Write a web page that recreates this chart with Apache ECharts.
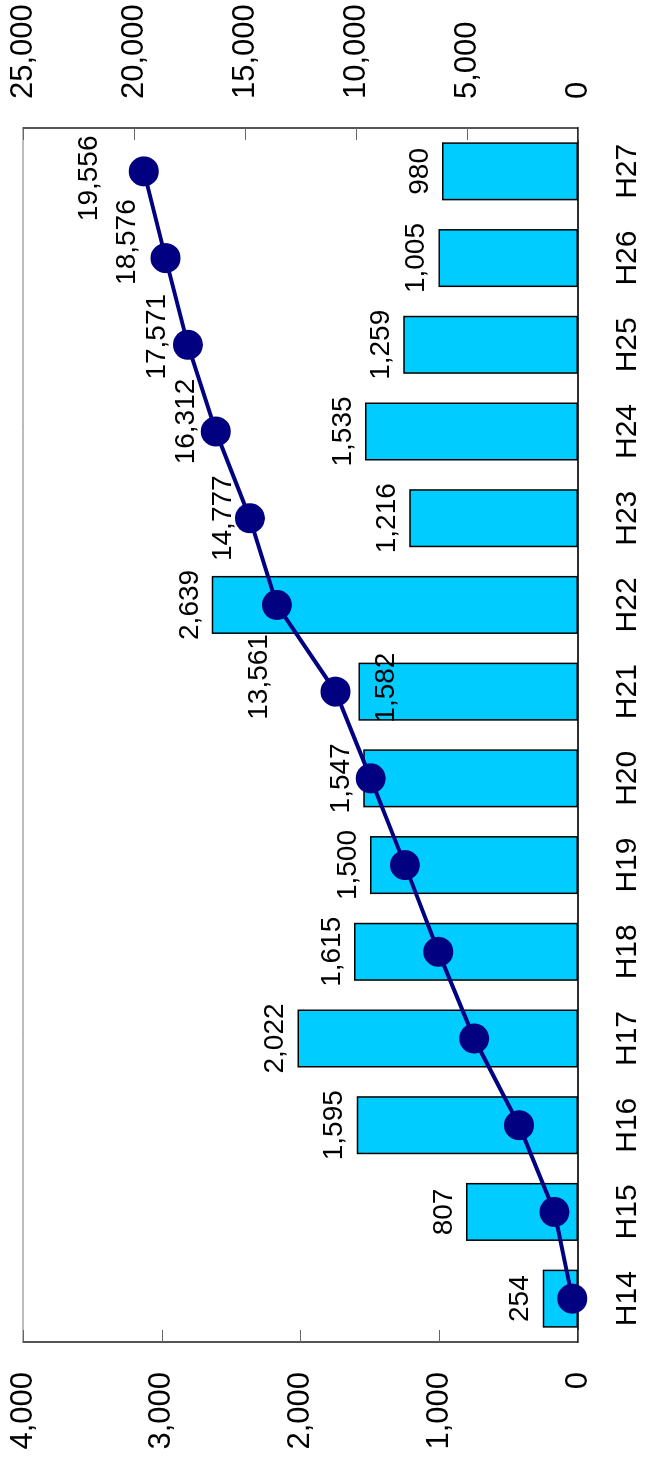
<!DOCTYPE html>
<html>
<head>
<meta charset="utf-8">
<script src="https://cdn.jsdelivr.net/npm/echarts@6/dist/echarts.min.js"></script>
<style>
  html, body { margin: 0; padding: 0; background: #fff; overflow: hidden; width: 645px; height: 1464px; }
  #chart { position: absolute; left: 0; top: 0; width: 1464px; height: 645px;
           transform-origin: 0 0; transform: translateY(1464px) rotate(-90deg); }
</style>
</head>
<body>
<div id="chart"></div>
<script>
const categories = ['H14','H15','H16','H17','H18','H19','H20','H21','H22','H23','H24','H25','H26','H27'];
const annualCounts = [254, 807, 1595, 2022, 1615, 1500, 1547, 1582, 2639, 1216, 1535, 1259, 1005, 980];
const cumulativeCounts = [254, 1061, 2656, 4678, 6293, 7793, 9340, 10922, 13561, 14777, 16312, 17571, 18576, 19556];
const leftAxisTicks = [0, 1000, 2000, 3000, 4000];
const rightAxisTicks = [0, 5000, 10000, 15000, 20000, 25000];
const labelledCumulative = ['H22','H23','H24','H25','H26','H27'];

const FONT = '"Liberation Sans", Arial, sans-serif';
const fmt = v => String(v).replace(/\B(?=(\d{3})+(?!\d))/g, ',');

const lineLabelTweak = {
  H22: { distance: -11, offset: [-72, 0] },
  H23: { distance: -2, offset: [0, 0] },
  H24: { distance: 1, offset: [10, 0] },
  H25: { distance: 2, offset: [8, 0] },
  H26: { distance: 9, offset: [16, 0] },
  H27: { distance: 26, offset: [-7, 0] }
};

const barData = annualCounts.map((v, i) => {
  const item = { value: v };
  if (categories[i] === 'H21') {
    item.label = { position: 'insideTop', distance: 14, offset: [4, 0] };
  }
  return item;
});

const lineData = cumulativeCounts.map((v, i) => {
  const c = categories[i];
  const item = { value: v };
  if (labelledCumulative.includes(c)) {
    const t = lineLabelTweak[c];
    item.label = { show: true, position: 'top', distance: t.distance, offset: t.offset };
  }
  return item;
});

const chart = echarts.init(document.getElementById('chart'), null, { renderer: 'canvas' });
chart.setOption({
  animation: false,
  backgroundColor: '#fff',
  textStyle: { fontFamily: FONT },
  grid: { left: 122, right: 128, top: 23, bottom: 67, show: true, borderColor: '#777', borderWidth: 1, backgroundColor: 'transparent' },
  xAxis: {
    type: 'category',
    data: categories,
    axisLine: { lineStyle: { color: '#000', width: 1.5 } },
    axisTick: { inside: true, length: 12, lineStyle: { color: '#666', width: 1 } },
    axisLabel: { color: '#000', fontSize: 30, fontFamily: FONT, margin: 35 }
  },
  yAxis: [
    {
      type: 'value', min: leftAxisTicks[0], max: leftAxisTicks[leftAxisTicks.length - 1], interval: 1000,
      position: 'left',
      axisLine: { show: true, lineStyle: { color: '#333', width: 1.5 } },
      axisTick: { show: true, inside: true, length: 12, lineStyle: { color: '#666' } },
      splitLine: { show: false },
      axisLabel: { color: '#000', fontSize: 31, fontFamily: FONT, margin: 30, formatter: fmt }
    },
    {
      type: 'value', min: rightAxisTicks[0], max: rightAxisTicks[rightAxisTicks.length - 1], interval: 5000,
      position: 'right',
      axisLine: { show: true, lineStyle: { color: '#333', width: 1.5 } },
      axisTick: { show: true, inside: true, length: 12, lineStyle: { color: '#666' } },
      splitLine: { show: false },
      axisLabel: { color: '#000', fontSize: 31, fontFamily: FONT, margin: 29, formatter: fmt }
    }
  ],
  series: [
    {
      name: '件数',
      type: 'bar',
      yAxisIndex: 0,
      data: barData,
      barWidth: 58,
      itemStyle: { color: '#00CCFF', borderColor: '#000', borderWidth: 1.5 },
      label: { show: true, position: 'top', distance: 8, color: '#000', fontSize: 28, fontFamily: FONT, formatter: p => fmt(p.value) },
      z: 2
    },
    {
      name: '累計',
      type: 'line',
      yAxisIndex: 1,
      data: lineData,
      symbol: 'circle',
      symbolSize: 30,
      lineStyle: { color: '#000080', width: 4 },
      itemStyle: { color: '#000080' },
      label: { show: false, color: '#000', fontSize: 28, fontFamily: FONT, formatter: p => fmt(p.value) },
      z: 3
    }
  ]
});
</script>
</body>
</html>
